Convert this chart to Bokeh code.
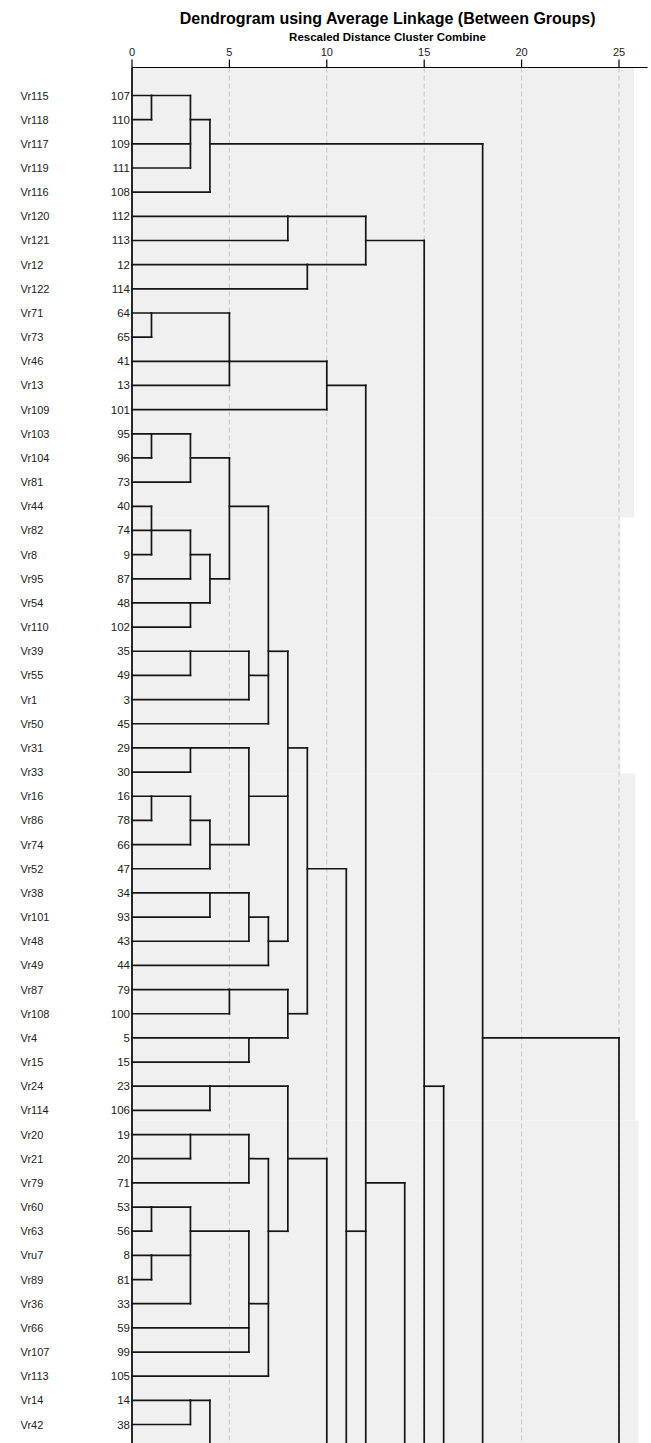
import math
from bokeh.plotting import figure
from bokeh.models import Range1d
from bokeh.embed import file_html
from bokeh.resources import INLINE
from bokeh.core.properties import value

# ---------------- data ----------------
names = ["Vr115", "Vr118", "Vr117", "Vr119", "Vr116", "Vr120", "Vr121", "Vr12", "Vr122",
         "Vr71", "Vr73", "Vr46", "Vr13", "Vr109", "Vr103", "Vr104", "Vr81", "Vr44", "Vr82",
         "Vr8", "Vr95", "Vr54", "Vr110", "Vr39", "Vr55", "Vr1", "Vr50", "Vr31", "Vr33",
         "Vr16", "Vr86", "Vr74", "Vr52", "Vr38", "Vr101", "Vr48", "Vr49", "Vr87", "Vr108",
         "Vr4", "Vr15", "Vr24", "Vr114", "Vr20", "Vr21", "Vr79", "Vr60", "Vr63", "Vru7",
         "Vr89", "Vr36", "Vr66", "Vr107", "Vr113", "Vr14", "Vr42"]
case_ids = ["107", "110", "109", "111", "108", "112", "113", "12", "114",
            "64", "65", "41", "13", "101", "95", "96", "73", "40", "74",
            "9", "87", "48", "102", "35", "49", "3", "45", "29", "30",
            "16", "78", "66", "47", "34", "93", "43", "44", "79", "100",
            "5", "15", "23", "106", "19", "20", "71", "53", "56", "8",
            "81", "33", "59", "99", "105", "14", "38"]

# clusters continuing below the visible part (exit row of the hidden child)
offscreen_ids = ["o4", "o10", "o11", "o12", "o14", "o15", "o16", "o25"]
offscreen_rows = [60, 70, 63, 62, 80, 77, 112, 100]

# merges: child a, child b, rescaled distance, new cluster id
merge_a = ["107", "109", "A1", "A3", "112", "12", "B1", "64", "C1", "C2", "C3",
           "95", "D1", "40", "D3", "D4", "48", "D5", "D2", "35", "D9", "D8", "D11",
           "29", "16", "E2", "E3", "E1", "34", "F1", "F2", "E5", "D12",
           "79", "5", "H1", "G2",
           "23", "19", "J2", "53", "8", "J5", "J4", "J7", "J8", "J9", "J3", "J1",
           "14", "K1", "J12", "I1", "C4", "C5", "C6", "B3", "M1", "A4", "N1"]
merge_b = ["110", "111", "A2", "108", "113", "114", "B2", "65", "41", "13", "101",
           "96", "73", "74", "9", "87", "102", "D6", "D7", "49", "3", "D10", "45",
           "30", "78", "66", "47", "E4", "93", "43", "44", "F3", "G1",
           "100", "15", "H2", "H3",
           "106", "20", "71", "56", "81", "33", "J6", "59", "99", "105", "J10", "J11",
           "38", "o4", "o10", "o11", "I2", "o12", "o14", "o15", "o16", "M2", "o25"]
merge_height = [1, 3, 3, 4, 8, 9, 12, 1, 5, 5, 10,
                1, 3, 1, 1, 3, 3, 4, 5, 3, 6, 7, 7,
                3, 1, 3, 4, 6, 4, 6, 7, 8, 8,
                5, 6, 8, 9,
                4, 3, 6, 1, 1, 3, 3, 6, 6, 7, 7, 8,
                3, 4, 10, 11, 12, 12, 14, 15, 16, 18, 25]
merge_id = ["A1", "A2", "A3", "A4", "B1", "B2", "B3", "C1", "C2", "C3", "C4",
            "D1", "D2", "D3", "D4", "D5", "D6", "D7", "D8", "D9", "D10", "D11", "D12",
            "E1", "E2", "E3", "E4", "E5", "F1", "F2", "F3", "G1", "G2",
            "H1", "H2", "H3", "I1",
            "J1", "J2", "J3", "J4", "J5", "J6", "J7", "J8", "J9", "J10", "J11", "J12",
            "K1", "K2", "J13", "I2", "C5", "C6", "L1", "M1", "M2", "N1", "N2"]

tick_values = [0, 5, 10, 15, 20, 25]
tick_labels = ["0", "5", "10", "15", "20", "25"]

title_text = "Dendrogram using Average Linkage (Between Groups)"
axis_title = "Rescaled Distance Cluster Combine"

# ---------------- page geometry (pixels -> data) ----------------
W, H = 651, 1443
X0_PX, UNIT_PX = 131.5, 19.48          # distance 0 and pixels per unit
ROW1_PX, ROW_PX = 95.0, 24.164         # first row centre and row pitch


def xd(px):
    return (px - X0_PX) / UNIT_PX


def yd(py):
    return 1 + (py - ROW1_PX) / ROW_PX


# ---------------- layout of the tree (rows = 1..n) ----------------
rows = list(range(1, len(names) + 1))
node = {}
for r, cid in zip(rows, case_ids):
    node[cid] = (r, 0.0)
for oid, orow in zip(offscreen_ids, offscreen_rows):
    node[oid] = (orow, 0.0)

hx0, hy, hx1 = [], [], []
vert = {}
for a, b, h, mid in zip(merge_a, merge_b, merge_height, merge_id):
    ra, ha = node[a]
    rb, hb = node[b]
    for r, hc in ((ra, ha), (rb, hb)):
        if hc != h:
            hx0.append(hc); hy.append(r); hx1.append(h)
    vert.setdefault(h, []).append((min(ra, rb), max(ra, rb)))
    node[mid] = (math.floor((ra + rb) / 2), float(h))

# union overlapping vertical pieces at the same distance
vx, vy0, vy1 = [], [], []
for h, ivs in vert.items():
    ivs.sort()
    cur = list(ivs[0])
    for lo, hi in ivs[1:]:
        if lo <= cur[1]:
            cur[1] = max(cur[1], hi)
        else:
            vx.append(h); vy0.append(cur[0]); vy1.append(cur[1])
            cur = [lo, hi]
    vx.append(h); vy0.append(cur[0]); vy1.append(cur[1])

# ---------------- figure ----------------
FONT = "Liberation Sans"
p = figure(width=W, height=H,
           x_range=Range1d(xd(0), xd(W)), y_range=Range1d(yd(H), yd(0)),
           x_axis_type=None, y_axis_type=None,
           toolbar_location=None, output_backend="svg",
           min_border_left=0, min_border_right=0, min_border_top=0, min_border_bottom=0)
p.outline_line_color = None
p.background_fill_color = "white"
p.border_fill_color = "white"
p.xgrid.visible = False
p.ygrid.visible = False

axis_row = yd(67)
bottom_row = yd(H + 20)

# grey plotting panel (with the uneven right edge seen in the picture)
bg_top = [axis_row, yd(517), yd(773), yd(1120)]
bg_bottom = [yd(517), yd(773), yd(1120), bottom_row]
bg_right = [xd(633.5), xd(620), xd(635), xd(638)]
p.quad(left=[0] * 4, right=bg_right, top=bg_top, bottom=bg_bottom,
       fill_color="#f0f0f0", line_color=None)

# dashed reference lines
grid_x = [t for t in tick_values if t > 0]
p.segment(x0=grid_x, y0=[axis_row] * len(grid_x), x1=grid_x, y1=[bottom_row] * len(grid_x),
          line_color="#c8c8c8", line_width=1, line_dash="5 3")

# top scale: axis line, ticks and labels
p.segment(x0=[0], y0=[axis_row], x1=[xd(647)], y1=[axis_row], line_color="black", line_width=1.2)
p.segment(x0=tick_values, y0=[yd(59)] * len(tick_values), x1=tick_values,
          y1=[axis_row] * len(tick_values), line_color="black", line_width=1.2)
p.text(x=tick_values, y=[yd(51)] * len(tick_values), text=tick_labels,
       text_font=value(FONT), text_font_size="11px", text_color="#222222",
       text_align="center", text_baseline="middle")
p.text(x=[xd(387)], y=[yd(36)], text=[axis_title], text_font=value(FONT),
       text_font_size="11.5px", text_font_style="bold", text_color="black",
       text_align="center", text_baseline="middle")
p.text(x=[xd(387.5)], y=[yd(17.5)], text=[title_text], text_font=value(FONT),
       text_font_size="16px", text_font_style="bold", text_color="black",
       text_align="center", text_baseline="middle")

# left base line at distance 0
p.segment(x0=[0], y0=[axis_row], x1=[0], y1=[bottom_row], line_color="#111111", line_width=1.8)

# dendrogram links
LC, LW = "#151515", 1.7
p.segment(x0=hx0, y0=hy, x1=hx1, y1=hy, line_color=LC, line_width=LW, line_cap="square")
p.segment(x0=vx, y0=vy0, x1=vx, y1=vy1, line_color=LC, line_width=LW, line_cap="square")

# row labels
p.text(x=[xd(129.5)] * len(rows), y=rows, text=case_ids, text_font=value(FONT),
       text_font_size="11.5px", text_color="#222222", text_align="right",
       text_baseline="middle")
p.text(x=[xd(20)] * len(rows), y=rows, text=names, text_font=value(FONT),
       text_font_size="11px", text_color="#222222", text_align="left",
       text_baseline="middle")

open("out.html", "w").write(file_html(p, INLINE))
